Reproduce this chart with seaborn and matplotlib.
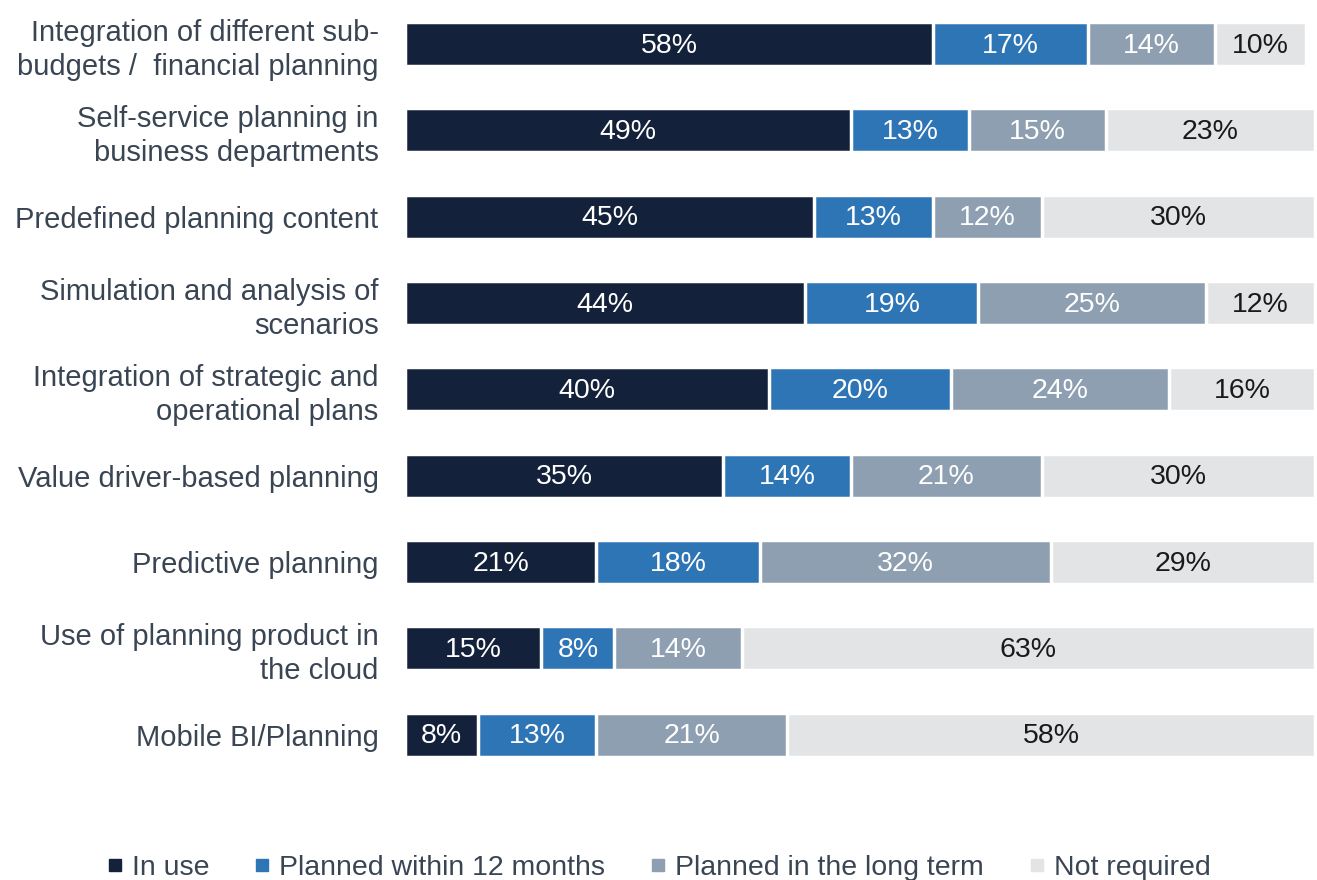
import pandas as pd
import seaborn as sns
import matplotlib.pyplot as plt
from matplotlib.lines import Line2D

# Data
categories = ["Integration of different sub-\nbudgets /  financial planning",
              "Self-service planning in\nbusiness departments",
              "Predefined planning content",
              "Simulation and analysis of\nscenarios",
              "Integration of strategic and\noperational plans",
              "Value driver-based planning",
              "Predictive planning",
              "Use of planning product in\nthe cloud",
              "Mobile BI/Planning"]
in_use = [58, 49, 45, 44, 40, 35, 21, 15, 8]
planned_12 = [17, 13, 13, 19, 20, 14, 18, 8, 13]
long_term = [14, 15, 12, 25, 24, 21, 32, 14, 21]
not_required = [10, 23, 30, 12, 16, 30, 29, 63, 58]

series = ['In use', 'Planned within 12 months', 'Planned in the long term', 'Not required']
colors = ['#13223a', '#2e75b6', '#8d9fb1', '#e3e4e6']
text_colors = ['white', 'white', 'white', '#1a1a1a']

df = pd.DataFrame({'Category': categories,
                   'In use': in_use,
                   'Planned within 12 months': planned_12,
                   'Planned in the long term': long_term,
                   'Not required': not_required})

# cumulative ends for stacking
cum = df[series].cumsum(axis=1)

sns.set_style('white')
plt.rcParams['font.family'] = ['Liberation Sans', 'DejaVu Sans']

fig = plt.figure(figsize=(13.17, 8.8), dpi=100)
ax = fig.add_axes([0.3075, 0.116, 0.691, 0.883])

# draw from the longest cumulative bar down so each segment sits on top
for i in reversed(range(len(series))):
    sns.barplot(x=cum[series[i]], y=df['Category'], color=colors[i], orient='h',
                width=0.51, edgecolor='white', linewidth=2.5, ax=ax, saturation=1)

# value labels in the middle of each segment
for i, s in enumerate(series):
    for j in range(len(df)):
        val = df[s].iloc[j]
        mid = cum[s].iloc[j] - val / 2
        ax.text(mid, j + 0.02, f'{val}%', ha='center', va='center',
                fontsize=20.5, color=text_colors[i])

ax.set_xlim(0, 100)
ax.set_ylim(8.5, -0.5)
ax.set_xlabel('')
ax.set_ylabel('')
ax.set_xticks([])
ax.tick_params(axis='y', length=0, pad=19, labelsize=21, labelcolor='#3a4554')
for lbl in ax.get_yticklabels():
    lbl.set_linespacing(1.25)
sns.despine(ax=ax, left=True, bottom=True)

# Legend at the bottom
handles = [Line2D([0], [0], marker='s', linestyle='', markersize=8,
                  markerfacecolor=c, markeredgecolor=c) for c in colors]
leg = fig.legend(handles, series, loc='lower center', ncol=4, frameon=False,
                 fontsize=20.5, handlelength=0.6, handletextpad=0.3,
                 columnspacing=1.55, bbox_to_anchor=(0.5, -0.03))
for t in leg.get_texts():
    t.set_color('#3a4554')

plt.savefig('out.png', dpi=100)
